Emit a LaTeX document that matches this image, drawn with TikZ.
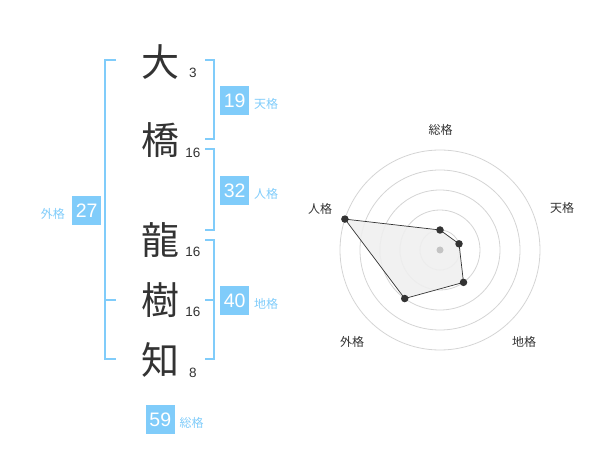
\documentclass[tikz,border=0pt]{standalone}
\usepackage{fontspec}
\setmainfont{Liberation Sans}
\newfontfamily\jp{Noto Sans CJK JP}
\definecolor{sky}{HTML}{80CCFA}
\definecolor{ink}{HTML}{333333}
\definecolor{ring}{HTML}{D4D4D4}
\definecolor{hub}{HTML}{C4C4C4}
\definecolor{area}{HTML}{EFEFEF}
\begin{document}
\begin{tikzpicture}[x=1pt,y=-1pt,
  kanji/.style={font=\jp\fontsize{38}{38}\selectfont, text=ink, inner sep=0},
  strokes/.style={font=\fontsize{13.5}{14}\selectfont, text=ink, inner sep=0},
  valbox/.style={fill=sky, text=white, minimum size=28.7pt, inner sep=0, font=\fontsize{19.5}{19.5}\selectfont},
  vallabel/.style={text=sky, font=\jp\fontsize{12}{12}\selectfont, inner sep=0},
  bracket/.style={draw=sky, line width=2pt},
  radarlabel/.style={text=ink, font=\jp\fontsize{12}{12}\selectfont, inner sep=0},
  ringline/.style={draw=ring, line width=0.8pt},
  vertex/.style={circle, fill=ink, inner sep=0, minimum size=7.5pt},
  edge/.style={draw=ink, line width=0.7pt}]
\useasboundingbox (0,0) rectangle (600,470);

% name characters
\node[kanji] (c1) at (160,62) {大};
\node[kanji] (c2) at (160,140) {橋};
\node[kanji] (c3) at (160,240) {龍};
\node[kanji] (c4) at (160,300) {樹};
\node[kanji] (c5) at (160,360) {知};
\node[strokes] (s1) at (193,72.7) {3};
\node[strokes] (s2) at (193,153.3) {16};
\node[strokes] (s3) at (193,252.3) {16};
\node[strokes] (s4) at (193,312.3) {16};
\node[strokes] (s5) at (193,373.3) {8};

% brackets
\draw[bracket] (116,60) -- (105,60) -- (105,359.3) -- (116,359.3);
\draw[bracket] (105,300) -- (116,300);
\draw[bracket] (205,60) -- (214.3,60) -- (214.3,139.3) -- (205,139.3);
\draw[bracket] (205,149.3) -- (214.3,149.3) -- (214.3,230) -- (205,230);
\draw[bracket] (205,240) -- (214.3,240) -- (214.3,359.3) -- (205,359.3);
\draw[bracket] (214.3,300) -- (205,300);

% values
\node[valbox] (ten) at (234.7,100.3) {19};
\node[vallabel, anchor=west] (tenl) at (254,104) {天格};
\node[valbox] (jin) at (234.7,190.3) {32};
\node[vallabel, anchor=west] (jinl) at (254,194) {人格};
\node[valbox] (chi) at (234.7,300.3) {40};
\node[vallabel, anchor=west] (chil) at (254,303.5) {地格};
\node[valbox] (gai) at (86.7,210.3) {27};
\node[vallabel, anchor=east] (gail) at (65,214) {外格};
\node[valbox] (sou) at (160.3,419.3) {59};
\node[vallabel, anchor=west] (soul) at (179.3,423.3) {総格};

% radar chart
\begin{scope}[shift={(440,250)}, yscale=-1]
  \foreach \r in {20,40,60,80,100} \draw[ringline] (0,0) circle[radius=\r];
  \fill[area, opacity=0.9] (90:20) -- (18:20) -- (-54:40) -- (-126:60) -- (162:100) -- cycle;
  \node[circle, fill=hub, inner sep=0, minimum size=7pt] (ctr) at (0,0) {};
  \node[vertex] (p1) at (90:20) {};
  \node[vertex] (p2) at (18:20) {};
  \node[vertex] (p3) at (-54:40) {};
  \node[vertex] (p4) at (-126:60) {};
  \node[vertex] (p5) at (162:100) {};
  \draw[edge] (p1.center) -- (p2.center) -- (p3.center) -- (p4.center) -- (p5.center) -- (p1.center);
\end{scope}
\node[radarlabel] (l1) at (440.7,130) {総格};
\node[radarlabel] (l2) at (562,208) {天格};
\node[radarlabel] (l3) at (524,342) {地格};
\node[radarlabel] (l4) at (352,342) {外格};
\node[radarlabel] (l5) at (320,209) {人格};
\end{tikzpicture}
\end{document}
